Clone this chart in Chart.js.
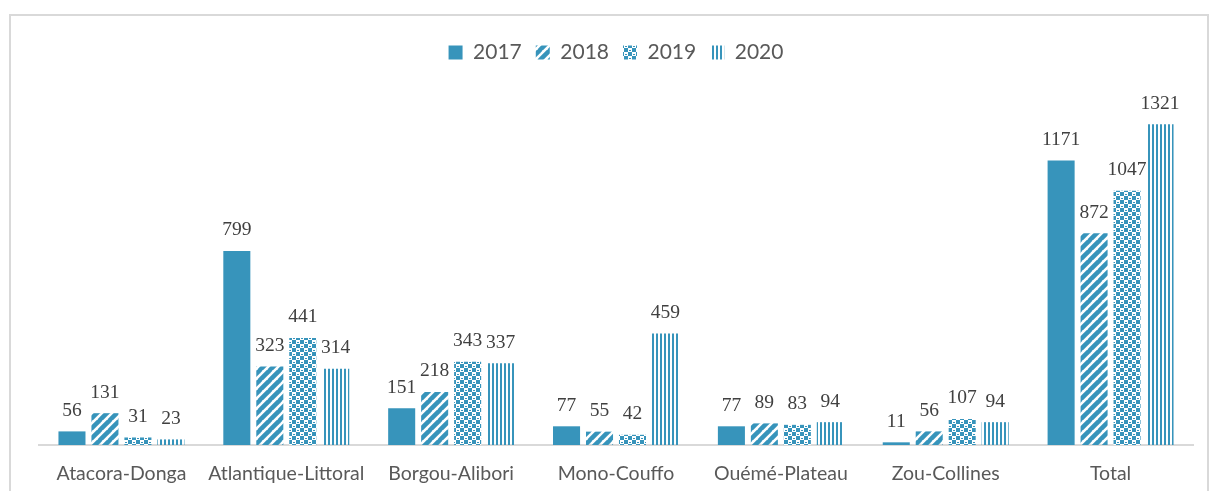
<!DOCTYPE html>
<html>
<head>
<meta charset="utf-8">
<script src="https://cdn.jsdelivr.net/npm/chart.js@4"></script>
<style>
  html, body { margin: 0; padding: 0; background: #fff; }
  body { width: 1209px; height: 491px; position: relative; overflow: hidden; }
  .frame { position: absolute; left: 9px; top: 14px; width: 1200px; height: 500px; border: 2px solid #d9d9d9; box-sizing: border-box; }
  .wrap { position: absolute; left: 0; top: 0; width: 1209px; height: 491px; }
</style>
</head>
<body>
<div class="frame"></div>
<div class="wrap"><canvas id="chart" width="1209" height="491"></canvas></div>
<script>
const regions = [`Atacora-Donga`, `Atlantique-Littoral`, `Borgou-Alibori`, `Mono-Couffo`, `Ouémé-Plateau`, `Zou-Collines`, `Total`];
const years = [`2017`, `2018`, `2019`, `2020`];
const values2017 = [56, 799, 151, 77, 77, 11, 1171];
const values2018 = [131, 323, 218, 55, 89, 56, 872];
const values2019 = [31, 441, 343, 42, 83, 107, 1047];
const values2020 = [23, 314, 337, 459, 94, 94, 1321];

const blue = `#3794bb`;

// little canvas tiles used as fills
function makePattern(kind) {
  let c = document.createElement(`canvas`);
  let ctx = c.getContext(`2d`);
  if (kind === `diag`) {
    c.width = 10; c.height = 10;
    ctx.strokeStyle = blue;
    ctx.lineWidth = 4.5;
    for (let k = -10; k <= 10; k += 10) {
      ctx.beginPath();
      ctx.moveTo(k - 1, 11);
      ctx.lineTo(k + 11, -1);
      ctx.stroke();
    }
  } else if (kind === `check`) {
    c.width = 8; c.height = 8;
    ctx.fillStyle = blue;
    ctx.fillRect(0, 0, 8, 8);
    ctx.fillStyle = `#fff`;
    ctx.fillRect(4, 0, 4, 4);
    ctx.fillRect(0, 4, 4, 4);
    ctx.fillStyle = blue;
    ctx.fillRect(5, 2, 2, 1);
    ctx.fillRect(1, 6, 2, 1);
  } else {
    c.width = 4; c.height = 4;
    ctx.fillStyle = blue;
    ctx.fillRect(0, 0, 2, 4);
  }
  return ctx.createPattern(c, `repeat`);
}

const valueLabels = {
  id: `valueLabels`,
  beforeInit(chart) {
    // room under the legend so the bars start lower
    const fit = chart.legend.fit;
    chart.legend.fit = function() {
      fit.call(this);
      this.height = 77;
    };
  },
  afterDatasetsDraw(chart) {
    let ctx = chart.ctx;
    ctx.save();
    ctx.font = `19.5px "Liberation Serif"`;
    ctx.fillStyle = `#404040`;
    ctx.textAlign = `center`;
    ctx.textBaseline = `bottom`;
    chart.data.datasets.forEach((ds, i) => {
      chart.getDatasetMeta(i).data.forEach((bar, j) => {
        ctx.fillText(String(ds.data[j]), bar.x, bar.y - 11);
      });
    });
    ctx.restore();
  }
};

const series = [values2017, values2018, values2019, values2020];
const fills = [blue, makePattern(`diag`), makePattern(`check`), makePattern(`vert`)];

new Chart(document.getElementById(`chart`).getContext(`2d`), {
  type: `bar`,
  data: {
    labels: regions,
    datasets: series.map((data, i) => ({
      label: years[i],
      data: data,
      backgroundColor: fills[i],
      borderWidth: 0,
      categoryPercentage: 0.8,
      barPercentage: 0.82
    }))
  },
  options: {
    responsive: false,
    animation: false,
    devicePixelRatio: 1,
    layout: { padding: { left: 39, right: 16, top: 28, bottom: 0 } },
    plugins: {
      legend: {
        position: `top`,
        labels: {
          boxWidth: 14,
          boxHeight: 14,
          padding: 14,
          color: `#595959`,
          font: { family: `Lato`, size: 21 }
        }
      },
      tooltip: { enabled: false }
    },
    scales: {
      x: {
        grid: { display: false },
        border: { color: `#d9d9d9`, width: 2 },
        ticks: { color: `#595959`, font: { family: `Lato`, size: 19.5 }, padding: 9, maxRotation: 0 },
        afterFit(scale) { scale.height = 46; }
      },
      y: {
        display: false,
        min: 0,
        max: 1400
      }
    }
  },
  plugins: [valueLabels]
});
</script>
</body>
</html>
